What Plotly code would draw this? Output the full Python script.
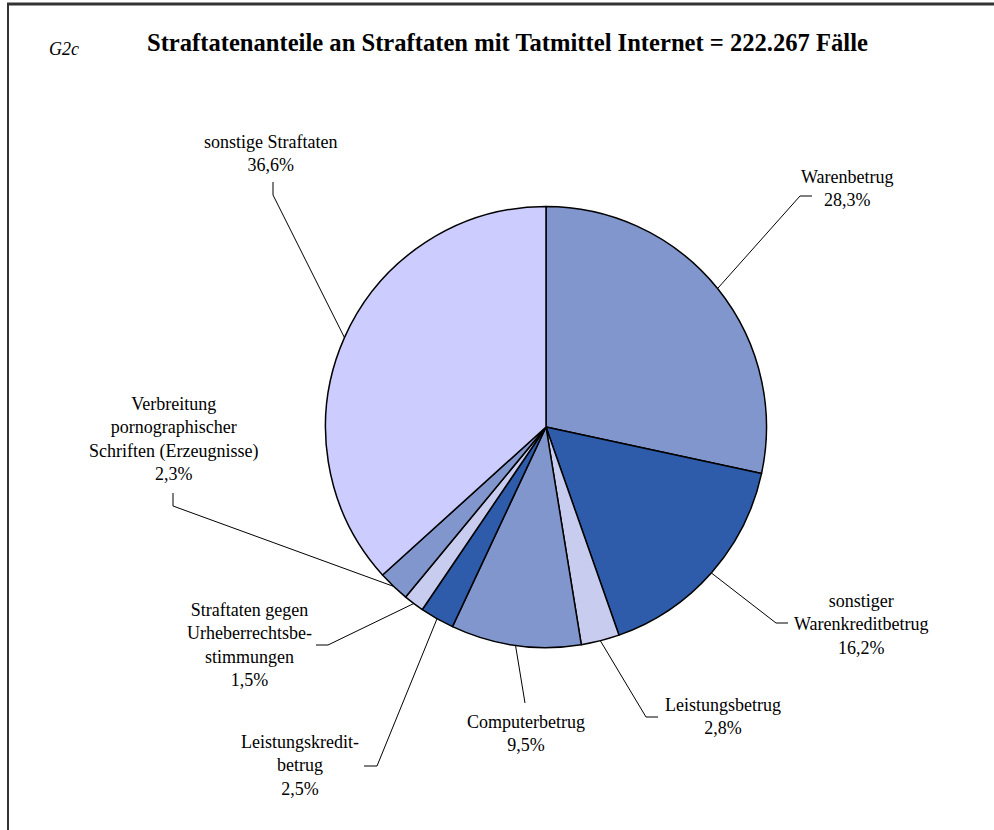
import math
import plotly.graph_objects as go

# ---- data ----
categories = [
    "Warenbetrug",
    "sonstiger<br>Warenkreditbetrug",
    "Leistungsbetrug",
    "Computerbetrug",
    "Leistungskredit-<br>betrug",
    "Straftaten gegen<br>Urheberrechtsbe-<br>stimmungen",
    "Verbreitung<br>pornographischer<br>Schriften (Erzeugnisse)",
    "sonstige Straftaten",
]
values = [28.3, 16.2, 2.8, 9.5, 2.5, 1.5, 2.3, 36.6]
colors = ["#8096CC", "#2E5CAB", "#C8CCEE", "#8096CC", "#2E5CAB", "#C8CCEE", "#8096CC", "#CCCCFF"]

title = "Straftatenanteile an Straftaten mit Tatmittel Internet = 222.267 Fälle"
tag = "G2c"

# ---- layout constants (pixels) ----
W, H = 994, 830
CX, CY, R = 546, 427, 220.5

# label layout: elbow point, end point, text centre
elbows = [(800, 196), (776, 623), (646, 717), (525, 703), (377, 766), (328, 645), (173, 506), (273, 195)]
ends = [(812, 196), (788, 623), (658, 717), (525, 703), (364, 766), (316, 645), (173, 493), (273, 182)]
text_pos = [(847, 188), (861, 624), (723, 716), (526, 733), (300, 765), (249, 645), (173, 439), (270, 153)]

FONT = "Liberation Serif, Times New Roman, serif"

fig = go.Figure()

fig.add_trace(go.Pie(
    labels=[c.replace("<br>", " ") for c in categories],
    values=values,
    sort=False,
    direction="clockwise",
    rotation=0,
    marker=dict(colors=colors, line=dict(color="black", width=1.5)),
    textinfo="none",
    hoverinfo="skip",
    showlegend=False,
    domain=dict(x=[(CX - R) / W, (CX + R) / W], y=[1 - (CY + R) / H, 1 - (CY - R) / H]),
))

total = sum(values)
cum = 0.0
for i, v in enumerate(values):
    mid = (cum + v / 2) / total * 2 * math.pi
    cum += v
    px = CX + R * math.sin(mid)
    py = CY - R * math.cos(mid)
    fig.add_trace(go.Scatter(
        x=[px, elbows[i][0], ends[i][0]],
        y=[py, elbows[i][1], ends[i][1]],
        mode="lines",
        line=dict(color="black", width=1),
        hoverinfo="skip",
        showlegend=False,
        xaxis="x", yaxis="y",
    ))
    pct = f"{v:.1f}".replace(".", ",") + "%"
    fig.add_annotation(
        x=text_pos[i][0], y=text_pos[i][1], xref="x", yref="y",
        text=categories[i] + "<br>" + pct,
        showarrow=False, align="center",
        font=dict(family=FONT, size=18, color="black"),
        xanchor="center", yanchor="middle",
    )

fig.add_annotation(
    x=507, y=42, xref="x", yref="y", text="<b>" + title + "</b>",
    showarrow=False, font=dict(family=FONT, size=24.6, color="black"),
    xanchor="center", yanchor="middle",
)
fig.add_annotation(
    x=64, y=49, xref="x", yref="y", text="<i>" + tag + "</i>",
    showarrow=False, font=dict(family=FONT, size=18, color="black"),
    xanchor="center", yanchor="middle",
)

fig.add_shape(type="line", xref="x", yref="y", x0=7, x1=W, y0=4, y1=4,
              line=dict(color="#333333", width=3))
fig.add_shape(type="line", xref="x", yref="y", x0=8, x1=8, y0=4, y1=H,
              line=dict(color="#333333", width=2))

fig.update_layout(
    width=W, height=H,
    margin=dict(l=0, r=0, t=0, b=0),
    paper_bgcolor="white", plot_bgcolor="rgba(0,0,0,0)",
    xaxis=dict(range=[0, W], visible=False, domain=[0, 1], fixedrange=True),
    yaxis=dict(range=[H, 0], visible=False, domain=[0, 1], fixedrange=True),
    showlegend=False,
)

fig.write_html(
    "out.html",
    config={"displayModeBar": False},
    post_script="document.body.style.margin='0';document.body.style.overflow='hidden';",
)
